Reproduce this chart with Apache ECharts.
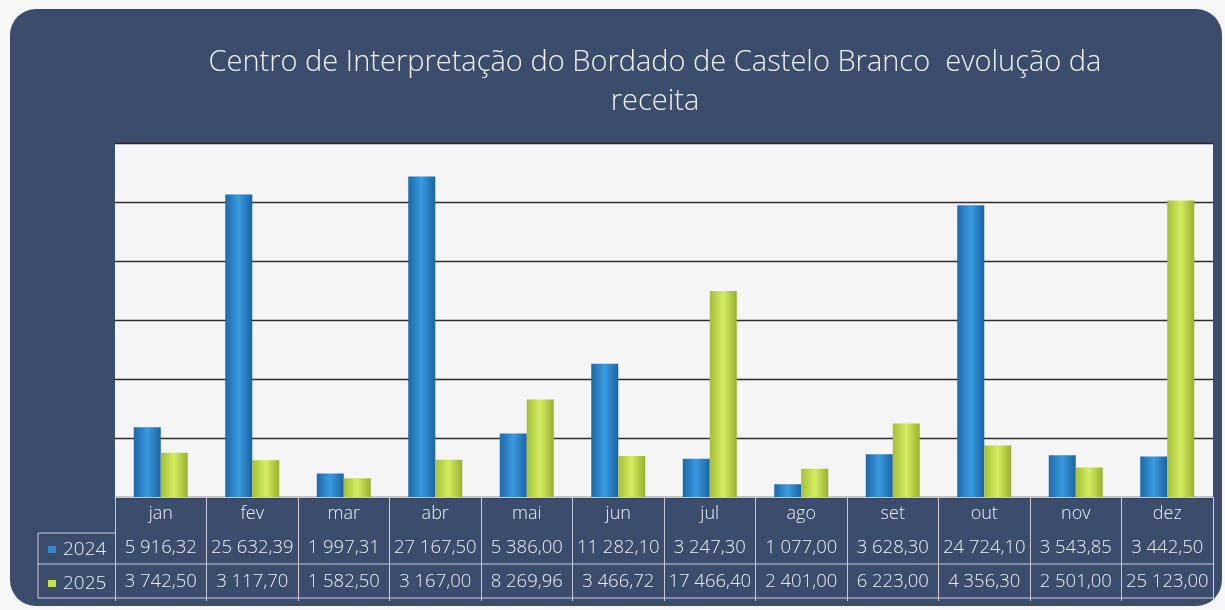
<!DOCTYPE html>
<html>
<head>
<meta charset="utf-8">
<script src="https://cdn.jsdelivr.net/npm/echarts@6/dist/echarts.min.js"></script>
<style>
body{margin:0;background:#f7f7f7;}
#main{width:1225px;height:610px;}
</style>
</head>
<body>
<div id="main"></div>
<script>
// dados
var meses = ['jan','fev','mar','abr','mai','jun','jul','ago','set','out','nov','dez'];
var anos = ['2024','2025'];
var receita2024 = [5916.32,25632.39,1997.31,27167.50,5386.00,11282.10,3247.30,1077.00,3628.30,24724.10,3543.85,3442.50];
var receita2025 = [3742.50,3117.70,1582.50,3167.00,8269.96,3466.72,17466.40,2401.00,6223.00,4356.30,2501.00,25123.00];

// formato 1 234,56
function fmt(v){
    var p = v.toFixed(2).split('.');
    var inteiro = p[0].replace(/\B(?=(\d{3})+(?!\d))/g,' ');
    return inteiro + ',' + p[1];
}

var navy = '#3b4c6c';
var linha = '#c9c9d6';
var corTexto = '#eceef4';
var fonte = '"Open Sans", "Noto Sans", sans-serif';

var gL = 115, gR = 1213, gT = 143, gB = 497;
var rowH = 34;

var chart = echarts.init(document.getElementById('main'));

function gradiente(c1,c2,c3){
    return new echarts.graphic.LinearGradient(0,0,1,0,[
        {offset:0,color:c1},{offset:0.5,color:c2},{offset:1,color:c3}
    ]);
}

function eixoValores(valores, offset){
    return {
        type:'category',
        data:meses,
        position:'bottom',
        offset:offset,
        axisLine:{show:false},
        axisTick:{show:false},
        axisLabel:{
            interval:0,
            margin:7,
            color:corTexto,
            fontSize:18.5,
            fontWeight:300,
            fontFamily:fonte,
            formatter:function(v,i){ return fmt(valores[i]); }
        }
    };
}

var option = {
    backgroundColor:'#f7f7f7',
    title:{
        text:'Centro de Interpretação do Bordado de Castelo Branco  evolução da\nreceita',
        left:650,
        top:38,
        textAlign:'center',
        textStyle:{
            color:'#f2f2f2',
            fontSize:29,
            fontWeight:300,
            fontFamily:fonte,
            lineHeight:39
        }
    },
    graphic:[
        {
            type:'rect', z:-10,
            shape:{x:10,y:9,width:1212,height:597,r:26},
            style:{fill:navy}
        },
        {
            type:'group', z:100,
            children:[
                {type:'line',shape:{x1:38,y1:gB+2*rowH-1,x2:gR,y2:gB+2*rowH-1},style:{stroke:linha,lineWidth:1}},
                {type:'line',shape:{x1:38,y1:gB+3*rowH-1,x2:gR,y2:gB+3*rowH-1},style:{stroke:linha,lineWidth:1}},
                {type:'line',shape:{x1:38,y1:gB+4*rowH-3,x2:gR,y2:gB+4*rowH-3},style:{stroke:linha,lineWidth:1}},
                {type:'line',shape:{x1:38,y1:gB+rowH+2,x2:38,y2:gB+3*rowH-1},style:{stroke:linha,lineWidth:1}},
                {type:'line',shape:{x1:38,y1:gB+rowH+2,x2:gL,y2:gB+rowH+2},style:{stroke:linha,lineWidth:1}},
                {type:'rect',shape:{x:48,y:546,width:8,height:7},style:{fill:'#2f8ad0'}},
                {type:'text',style:{x:63,y:550,text:anos[0],fill:corTexto,font:'300 19px '+fonte,verticalAlign:'middle'}},
                {type:'rect',shape:{x:48,y:580,width:8,height:7},style:{fill:'#c6de4c'}},
                {type:'text',style:{x:63,y:584,text:anos[1],fill:corTexto,font:'300 19px '+fonte,verticalAlign:'middle'}}
            ]
        }
    ],
    grid:{
        left:gL,
        right:1225-gR,
        top:gT,
        bottom:610-gB,
        show:true,
        backgroundColor:'#f5f5f5',
        borderWidth:0
    },
    xAxis:[
        {
            type:'category',
            data:meses,
            position:'bottom',
            axisLine:{show:true,lineStyle:{color:linha,width:1}},
            axisTick:{show:true,interval:0,length:(gB+3*rowH+3)-gB - 1,lineStyle:{color:linha,width:1}},
            axisLabel:{interval:0,margin:8,color:corTexto,fontSize:18,fontWeight:300,fontFamily:fonte}
        },
        eixoValores(receita2024, rowH),
        eixoValores(receita2025, rowH*2)
    ],
    yAxis:{
        type:'value',
        min:0,
        max:30000,
        interval:5000,
        axisLabel:{show:false},
        axisLine:{show:false},
        axisTick:{show:false},
        splitLine:{show:true,lineStyle:{color:'#2e2e2e',width:1.3}}
    },
    series:[
        {
            name:anos[0],
            type:'bar',
            data:receita2024,
            barGap:'0%',
            barCategoryGap:'41%',
            itemStyle:{color:gradiente('#1e68a8','#3b9be0','#1c62a2')}
        },
        {
            name:anos[1],
            type:'bar',
            data:receita2025,
            barGap:'0%',
            barCategoryGap:'41%',
            itemStyle:{color:gradiente('#a3bf36','#d4ec62','#97b030')}
        }
    ]
};

chart.setOption(option);
</script>
</body>
</html>
